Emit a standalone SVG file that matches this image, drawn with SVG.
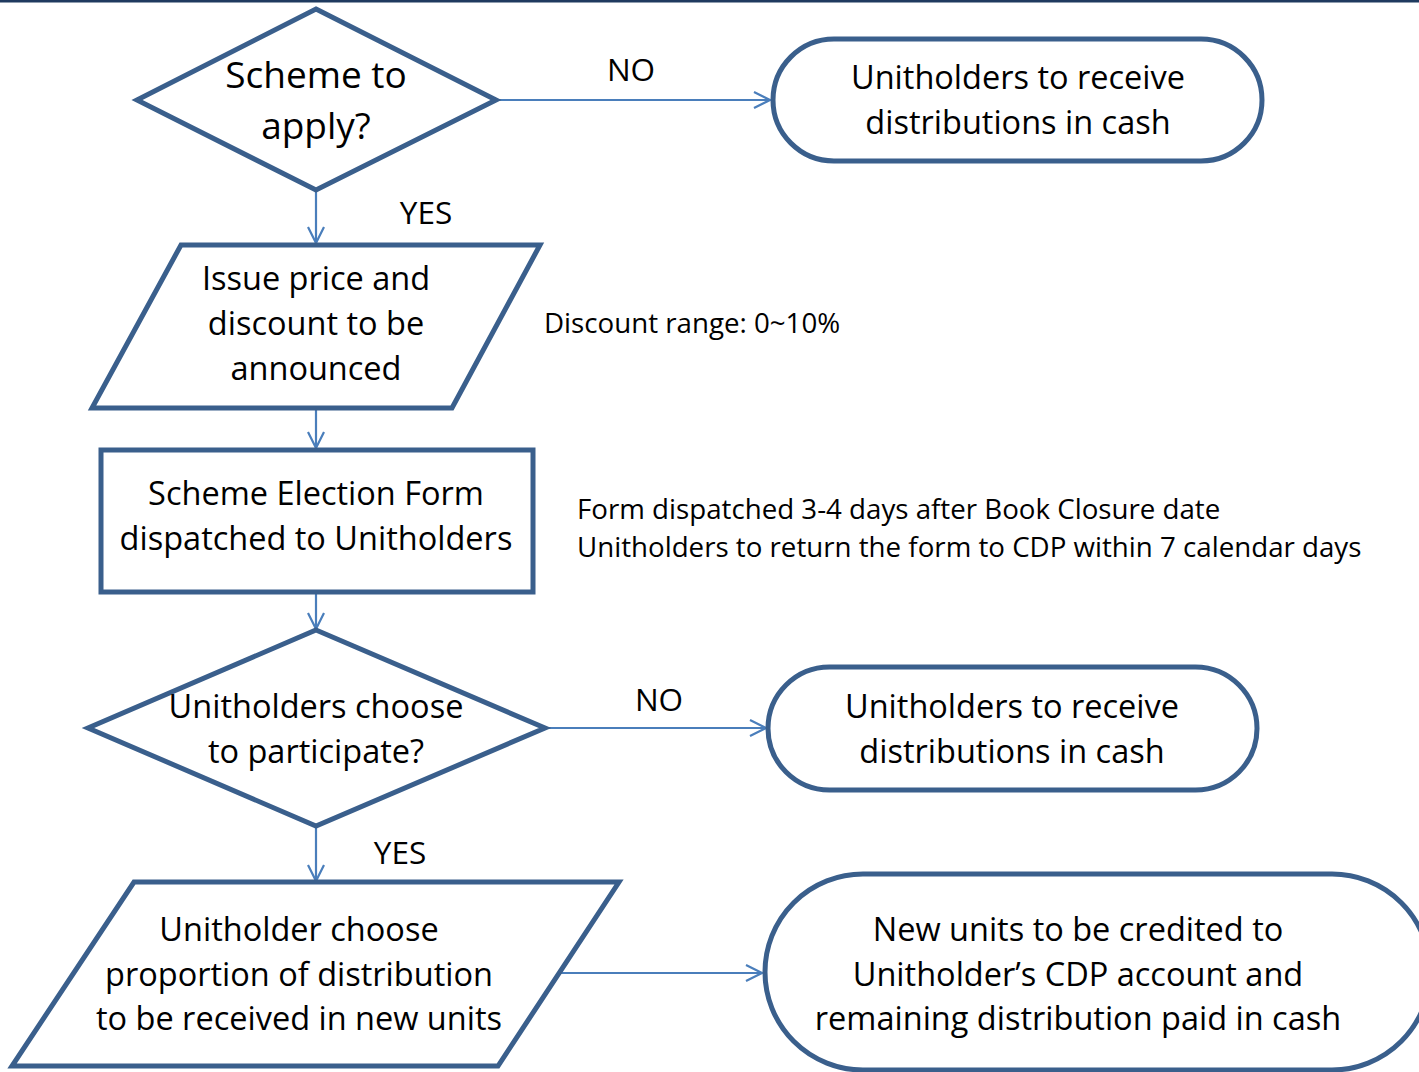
<svg xmlns="http://www.w3.org/2000/svg" width="1419" height="1072" viewBox="0 0 1419 1072">
<defs>
<style>
.node{fill:#fff;stroke:#3a5f8c;stroke-width:5;stroke-linejoin:miter}
.conn{stroke:#4a7ebb;stroke-width:2.2;fill:none}
.t{font-family:"Open Sans","Noto Sans",sans-serif;fill:#000;text-anchor:middle}
.n{font-size:32.5px}
.big{font-size:37px}
.lbl{font-size:31.5px}
.ann{font-size:27.7px;text-anchor:start}
</style>
<marker id="arr" viewBox="0 0 20 20" refX="18" refY="10" markerWidth="20" markerHeight="20" markerUnits="userSpaceOnUse" orient="auto">
<path d="M2,2 L18,10 L2,18" fill="none" stroke="#4a7ebb" stroke-width="2.2"/>
</marker>
</defs>
<rect x="0" y="0" width="1419" height="1072" fill="#fff"/>
<rect x="0" y="0" width="1419" height="2.5" fill="#1f3a5f"/>
<g id="connectors">
<line class="conn" x1="498" y1="100" x2="770" y2="100" marker-end="url(#arr)"/>
<line class="conn" x1="316" y1="190" x2="316" y2="243" marker-end="url(#arr)"/>
<line class="conn" x1="316" y1="408" x2="316" y2="448" marker-end="url(#arr)"/>
<line class="conn" x1="316" y1="592" x2="316" y2="629" marker-end="url(#arr)"/>
<line class="conn" x1="547" y1="728" x2="766" y2="728" marker-end="url(#arr)"/>
<line class="conn" x1="316" y1="826" x2="316" y2="881" marker-end="url(#arr)"/>
<line class="conn" x1="560" y1="973" x2="762" y2="973" marker-end="url(#arr)"/>
<text class="t lbl" x="631" y="81">NO</text>
<text class="t lbl" x="426" y="224">YES</text>
<text class="t lbl" x="659" y="711">NO</text>
<text class="t lbl" x="400" y="864">YES</text>
</g>
<g id="d1">
<polygon class="node" points="316,9 496,100 316,190 137,100"/>
<text class="t big" x="316" y="88">Scheme to</text>
<text class="t big" x="316" y="139">apply?</text>
</g>
<g id="t1">
<rect class="node" x="773" y="39" width="489" height="122" rx="61" ry="61"/>
<text class="t n" x="1018" y="88.5">Unitholders to receive</text>
<text class="t n" x="1018" y="133.5">distributions in cash</text>
</g>
<g id="p1">
<polygon class="node" points="181,245 540,245 452,408 92,408"/>
<text class="t n" x="316" y="290">Issue price and</text>
<text class="t n" x="316" y="335">discount to be</text>
<text class="t n" x="316" y="379.5">announced</text>
</g>
<g id="a1">
<text class="t ann" x="544" y="332.5">Discount range: 0~10%</text>
</g>
<g id="r1">
<rect class="node" x="101" y="450" width="432" height="142"/>
<text class="t n" x="316" y="505">Scheme Election Form</text>
<text class="t n" x="316" y="550">dispatched to Unitholders</text>
</g>
<g id="a2">
<text class="t ann" x="577" y="519">Form dispatched 3-4 days after Book Closure date</text>
<text class="t ann" x="577" y="557">Unitholders to return the form to CDP within 7 calendar days</text>
</g>
<g id="d2">
<polygon class="node" points="316,630 545,728 316,826 88,728"/>
<text class="t n" x="316" y="718">Unitholders choose</text>
<text class="t n" x="316" y="763">to participate?</text>
</g>
<g id="t2">
<rect class="node" x="768" y="667" width="489" height="123" rx="61.5" ry="61.5"/>
<text class="t n" x="1012" y="718">Unitholders to receive</text>
<text class="t n" x="1012" y="763">distributions in cash</text>
</g>
<g id="p2">
<polygon class="node" points="134,882 619,882 498,1066 12,1066"/>
<text class="t n" x="299" y="941">Unitholder choose</text>
<text class="t n" x="299" y="986">proportion of distribution</text>
<text class="t n" x="299" y="1030">to be received in new units</text>
</g>
<g id="t3">
<rect class="node" x="765" y="874" width="665" height="196" rx="98" ry="98"/>
<text class="t n" x="1078" y="941">New units to be credited to</text>
<text class="t n" x="1078" y="986">Unitholder’s CDP account and</text>
<text class="t n" x="1078" y="1030">remaining distribution paid in cash</text>
</g>
</svg>
